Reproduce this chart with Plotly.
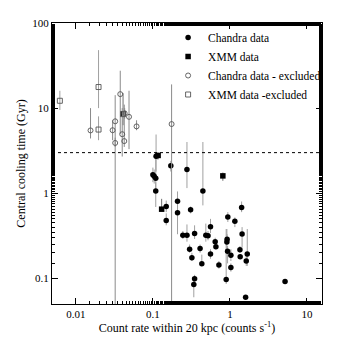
import plotly.graph_objects as go
import numpy as np

# Chandra data (filled circles): x, y, lower bound, upper bound
ch_x = [0.100, 0.104, 0.109, 0.109, 0.110, 0.114, 0.149, 0.149, 0.171, 0.209, 0.209,
        0.277, 0.309, 0.245, 0.277, 0.348, 0.30, 0.321, 0.41, 0.432, 0.348, 0.34,
        0.446, 0.487, 0.52, 0.56, 0.56, 0.644, 0.658, 0.72, 0.895, 0.914, 0.92,
        0.94, 0.933, 1.03, 1.03, 1.16, 1.35, 1.36, 1.42, 1.44, 1.60, 1.63, 1.68, 5.2]
ch_y = [1.65, 1.58, 1.50, 1.06, 2.72, 2.75, 0.70, 0.48, 2.1, 0.805, 0.59,
        1.9, 0.64, 0.32, 0.32, 0.336, 0.22, 0.175, 0.225, 0.149, 0.099, 0.085,
        1.06, 0.32, 0.316, 0.405, 0.193, 0.27, 0.236, 0.144, 0.097, 0.267, 0.288,
        0.526, 0.208, 0.187, 0.134, 0.47, 0.217, 0.18, 0.68, 0.333, 0.060, 0.16, 0.193, 0.092]
ch_lo = [1.35, 1.3, 1.1, 0.69, 1.8, 2.5, 0.6, 0.42, 1.8, 0.66, 0.33,
         1.15, 0.58, 0.29, 0.27, 0.29, 0.2, 0.16, 0.2, 0.14, 0.09, 0.06,
         0.72, 0.27, 0.28, 0.34, 0.17, 0.24, 0.22, 0.13, 0.086, 0.2, 0.25,
         0.46, 0.15, 0.16, 0.12, 0.4, 0.2, 0.17, 0.6, 0.23, 0.058, 0.14, 0.14, 0.09]
ch_hi = [2.0, 1.9, 2.6, 1.35, 4.9, 3.0, 0.82, 0.58, 2.4, 1.05, 0.75,
         4.0, 0.7, 0.36, 0.43, 0.42, 0.25, 0.2, 0.25, 0.19, 0.11, 0.095,
         4.0, 0.44, 0.36, 0.5, 0.22, 0.3, 0.25, 0.16, 0.38, 0.38, 0.33,
         0.6, 0.24, 0.22, 0.15, 0.52, 0.24, 0.19, 0.8, 0.4, 0.062, 0.19, 0.38, 0.094]

# XMM data (filled squares)
xmm_x = [0.130, 0.81, 0.117, 0.041]
xmm_y = [0.65, 1.6, 2.78, 8.6]
xmm_lo = [0.62, 1.4, 2.5, 6.3]
xmm_hi = [0.86, 1.75, 3.0, 15]

# Chandra data - excluded (open circles)
chx_x = [0.0155, 0.030, 0.0324, 0.0324, 0.0377, 0.040, 0.0425, 0.043, 0.049, 0.0614, 0.175]
chx_y = [5.47, 5.5, 7.0, 3.9, 14.6, 4.94, 4.1, 8.7, 7.9, 6.1, 6.5]
chx_lo = [4.4, 4.2, 0.01, 3.5, 5.0, 2.7, 3.5, 7.5, 3.3, 5.5, 0.01]
chx_hi = [10, 7.2, 14.2, 4.5, 27.5, 10, 11, 10, 16, 7.2, 19]

# XMM data - excluded (open squares)
xmx_x = [0.0062, 0.0197, 0.0197, 0.041]
xmx_y = [12.2, 17.7, 5.6, 8.5]
xmx_lo = [9.5, 10, 4.2, 7.0]
xmx_hi = [16, 48, 8, 10]

cool_limit = 3.0  # horizontal dotted line (Gyr)

x_tickvals = [0.01, 0.1, 1, 10]
x_ticktext = ["0.01", "0.1", "1", "10"]
y_tickvals = [0.1, 1, 10, 100]
y_ticktext = ["0.1", "1", "10", "100"]

FONT = "Liberation Serif"


def err(y, lo, hi, color="#a0a0a0"):
    y = np.array(y); lo = np.array(lo); hi = np.array(hi)
    return dict(type="data", symmetric=False, array=hi - y, arrayminus=y - lo,
                color=color, thickness=1, width=0)


fig = go.Figure()
fig.add_trace(go.Scatter(x=ch_x, y=ch_y, mode="markers", name="Chandra data",
                         marker=dict(symbol="circle", size=5.5, color="black"),
                         error_y=err(ch_y, ch_lo, ch_hi)))
fig.add_trace(go.Scatter(x=xmm_x, y=xmm_y, mode="markers", name="XMM data",
                         marker=dict(symbol="square", size=5.5, color="black"),
                         error_y=err(xmm_y, xmm_lo, xmm_hi, "#707070")))
fig.add_trace(go.Scatter(x=chx_x, y=chx_y, mode="markers", name="Chandra data - excluded",
                         marker=dict(symbol="circle-open", size=5, color="#555555",
                                     line=dict(width=0.9)),
                         error_y=err(chx_y, chx_lo, chx_hi, "#8a8a8a")))
fig.add_trace(go.Scatter(x=xmx_x, y=xmx_y, mode="markers", name="XMM data -excluded",
                         marker=dict(symbol="square-open", size=5, color="#555555",
                                     line=dict(width=0.9)),
                         error_y=err(xmx_y, xmx_lo, xmx_hi)))

fig.add_shape(type="line", xref="paper", yref="y", x0=0, x1=1, y0=cool_limit, y1=cool_limit,
              line=dict(color="black", width=1, dash="dot"))

axis_common = dict(type="log", showline=True, linecolor="black", linewidth=1, mirror="ticks",
                   ticks="inside", ticklen=6, tickcolor="black", showgrid=False, zeroline=False,
                   tickfont=dict(family=FONT, size=11, color="black"),
                   minor=dict(ticks="inside", ticklen=3, tickcolor="black", showgrid=False))

fig.update_xaxes(**axis_common, range=[np.log10(0.0049), np.log10(15.7)],
                 tickvals=x_tickvals, ticktext=x_ticktext,
                 title=dict(text="Count rate within 20 kpc (counts s<sup>-1</sup>)",
                            font=dict(family=FONT, size=12, color="black"), standoff=4))
fig.update_yaxes(**axis_common, range=[np.log10(0.05), 2],
                 tickvals=y_tickvals, ticktext=y_ticktext,
                 title=dict(text="Central cooling time (Gyr)",
                            font=dict(family=FONT, size=12, color="black"), standoff=4))

fig.update_layout(width=339, height=339, plot_bgcolor="white", paper_bgcolor="white",
                  margin=dict(l=52, r=17, t=23, b=35, autoexpand=False),
                  legend=dict(x=0.43, y=1.0, xanchor="left", yanchor="top",
                              bgcolor="rgba(0,0,0,0)", tracegroupgap=0, itemwidth=30,
                              font=dict(family=FONT, size=11.5, color="black")),
                  showlegend=True)

fig.write_html("out.html", post_script="document.body.style.margin='0px';",
               config={"displayModeBar": False})
